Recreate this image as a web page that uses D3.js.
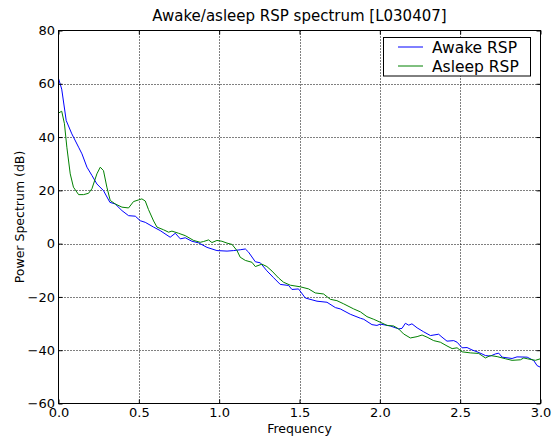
<!DOCTYPE html>
<html><head><meta charset="utf-8">
<script src="https://cdn.jsdelivr.net/npm/d3@7/dist/d3.min.js"></script>
<style>
body{margin:0;background:#fff;}
text{font-family:"DejaVu Sans",sans-serif;fill:#000;}
</style></head>
<body><svg id="c" width="554" height="441"></svg>
<script>
const awakeFreq = [0, 0.02, 0.048, 0.083, 0.125, 0.146, 0.177, 0.208, 0.239, 0.28, 0.32, 0.353, 0.395, 0.436, 0.478, 0.509, 0.54, 0.592, 0.633, 0.695, 0.727, 0.758, 0.789, 0.83, 0.872, 0.924, 0.986, 1.049, 1.09, 1.131, 1.163, 1.183, 1.225, 1.256, 1.297, 1.339, 1.38, 1.432, 1.453, 1.494, 1.536, 1.609, 1.671, 1.723, 1.754, 1.816, 1.879, 1.9, 1.951, 1.982, 2.003, 2.065, 2.117, 2.138, 2.159, 2.18, 2.2, 2.232, 2.273, 2.315, 2.366, 2.387, 2.418, 2.46, 2.481, 2.512, 2.543, 2.574, 2.605, 2.636, 2.657, 2.688, 2.719, 2.74, 2.761, 2.823, 2.854, 2.917, 2.958, 2.979, 3.0];
const awakeDb = [62, 58, 46.2, 41.2, 36.2, 33.7, 28.7, 25.6, 22.4, 19.9, 15.5, 14.9, 12.4, 10.5, 10.3, 8.6, 8.0, 6.2, 4.9, 2.4, 3.9, 1.8, 2.2, 0.9, 0.3, -1.4, -2.6, -2.8, -2.6, -2.3, -2.0, -3.2, -6.8, -7.2, -10.2, -12.8, -15.3, -15.7, -17.2, -17.0, -20.4, -21.6, -22.0, -24.0, -24.5, -26.5, -28.0, -28.4, -30.4, -30.7, -30.2, -30.9, -32.0, -31.8, -29.9, -30.6, -30.1, -31.6, -33.1, -34.5, -34.0, -35.1, -36.6, -36.4, -37.0, -39.1, -39.0, -39.9, -40.6, -41.4, -42.0, -42.2, -41.4, -41.1, -42.6, -43.1, -42.5, -42.6, -43.9, -45.8, -46.4];
const asleepFreq = [0, 0.02, 0.037, 0.052, 0.073, 0.093, 0.125, 0.156, 0.187, 0.208, 0.239, 0.26, 0.28, 0.301, 0.322, 0.353, 0.395, 0.436, 0.467, 0.498, 0.519, 0.54, 0.56, 0.592, 0.613, 0.654, 0.685, 0.706, 0.747, 0.789, 0.841, 0.882, 0.903, 0.934, 0.955, 0.986, 1.017, 1.049, 1.08, 1.111, 1.131, 1.163, 1.204, 1.225, 1.266, 1.297, 1.329, 1.37, 1.401, 1.443, 1.505, 1.557, 1.598, 1.65, 1.692, 1.733, 1.775, 1.837, 1.879, 1.92, 1.962, 2.003, 2.045, 2.086, 2.117, 2.148, 2.19, 2.232, 2.263, 2.294, 2.335, 2.377, 2.418, 2.45, 2.481, 2.512, 2.563, 2.615, 2.657, 2.688, 2.73, 2.782, 2.823, 2.875, 2.896, 2.917, 2.968, 3.0];
const asleepDb = [49, 49.7, 45, 36.2, 26.2, 21.2, 18.4, 18.4, 18.9, 20.6, 26.2, 28.7, 27.4, 21.2, 16.2, 14.9, 13.7, 13.4, 15.8, 16.4, 16.8, 16.0, 12.8, 8.5, 6.2, 5.2, 4.3, 4.7, 3.9, 3.0, 1.2, 0.5, 0.8, 1.4, 0.4, 1.2, 0.9, 0.2, -0.3, -2.6, -5.1, -6.3, -7.0, -8.6, -7.7, -8.6, -10.3, -12.9, -14.5, -15.6, -16.2, -17.0, -18.5, -18.9, -20.9, -21.4, -22.6, -24.5, -25.6, -27.4, -28.4, -29.5, -30.7, -30.9, -32.0, -33.9, -35.4, -34.9, -34.3, -35.1, -36.4, -37.0, -38.4, -39.4, -39.1, -40.6, -41.0, -41.2, -42.9, -42.0, -42.4, -43.2, -43.8, -43.6, -42.9, -43.2, -43.8, -43.2];
const xTicks = [0, 0.5, 1.0, 1.5, 2.0, 2.5, 3.0];
const yTicks = [-60, -40, -20, 0, 20, 40, 60, 80];
const seriesNames = ["Awake RSP", "Asleep RSP"];
const seriesColors = ["#0000ff", "#008000"];
const titleText = "Awake/asleep RSP spectrum [L030407]";
const xLabel = "Frequency";
const yLabel = "Power Spectrum (dB)";

const L = 58.5, T = 30.5, R = 540.5, B = 403.5;
const svg = d3.select("#c");
const x = d3.scaleLinear().domain([0, 3]).range([L, R]);
const y = d3.scaleLinear().domain([-60, 80]).range([B, T]);

// grid
const g = svg.append("g");
g.selectAll(".gx").data(xTicks.slice(1, -1)).enter().append("line")
  .attr("x1", d => Math.round(x(d)) + 0.5).attr("x2", d => Math.round(x(d)) + 0.5)
  .attr("y1", T).attr("y2", B).attr("stroke", "#000").attr("stroke-dasharray", "1,2").attr("stroke-width", 1);
g.selectAll(".gy").data(yTicks.slice(1, -1)).enter().append("line")
  .attr("y1", d => Math.round(y(d)) + 0.5).attr("y2", d => Math.round(y(d)) + 0.5)
  .attr("x1", L).attr("x2", R).attr("stroke", "#000").attr("stroke-dasharray", "1,2").attr("stroke-width", 1);

// lines
const clip = svg.append("clipPath").attr("id", "cl").append("rect")
  .attr("x", L).attr("y", T).attr("width", R - L).attr("height", B - T);
const line = d3.line().x(d => x(d[0])).y(d => y(d[1]));
const sets = [d3.zip(awakeFreq, awakeDb), d3.zip(asleepFreq, asleepDb)];
sets.forEach((s, i) => {
  svg.append("path").datum(s).attr("d", line).attr("fill", "none")
    .attr("stroke", seriesColors[i]).attr("stroke-width", 1).attr("clip-path", "url(#cl)");
});

// axes with inward ticks
const fmtX = d => d.toFixed(1);
const fmtY = d => (d < 0 ? "\u2212" + Math.abs(d) : String(d));
const ax = d3.axisBottom(x).tickValues(xTicks).tickSize(-4).tickPadding(4.5).tickFormat(fmtX);
const axT = d3.axisTop(x).tickValues(xTicks).tickSize(-4).tickFormat("");
const ay = d3.axisLeft(y).tickValues(yTicks).tickSize(-4).tickPadding(3.5).tickFormat(fmtY);
const ayR = d3.axisRight(y).tickValues(yTicks).tickSize(-4).tickFormat("");
function style(sel) {
  sel.select(".domain").remove();
  sel.selectAll("text").style("font-family", "DejaVu Sans").style("font-size", "13px").attr("fill", "#000");
  sel.selectAll("line").attr("stroke", "#000");
}
svg.append("g").attr("transform", `translate(0,${B})`).call(ax).call(style);
svg.append("g").attr("transform", `translate(0,${T})`).call(axT).call(style);
svg.append("g").attr("transform", `translate(${L},0)`).call(ay).call(style);
svg.append("g").attr("transform", `translate(${R},0)`).call(ayR).call(style);

svg.append("rect").attr("x", L).attr("y", T).attr("width", R - L).attr("height", B - T)
  .attr("fill", "none").attr("stroke", "#000").attr("stroke-width", 1);

// labels
svg.append("text").attr("x", (L + R) / 2).attr("y", 21).attr("text-anchor", "middle")
  .style("font-size", "15px").text(titleText);
svg.append("text").attr("x", (L + R) / 2).attr("y", 432.5).attr("text-anchor", "middle")
  .style("font-size", "12.5px").text(xLabel);
svg.append("text").attr("transform", `translate(24,${(T + B) / 2}) rotate(-90)`).attr("text-anchor", "middle")
  .style("font-size", "12.5px").text(yLabel);

// legend
const lg = svg.append("g");
lg.append("rect").attr("x", 383.5).attr("y", 37.5).attr("width", 147).attr("height", 38.5)
  .attr("fill", "#fff").attr("stroke", "#000").attr("stroke-width", 1);
seriesNames.forEach((n, i) => {
  const yy = 47 + i * 19;
  lg.append("line").attr("x1", 398).attr("x2", 423).attr("y1", yy).attr("y2", yy)
    .attr("stroke", seriesColors[i]).attr("stroke-width", 1);
  lg.append("text").attr("x", 432).attr("y", yy + 5.5).style("font-size", "15.5px").text(n);
});
</script></body></html>
